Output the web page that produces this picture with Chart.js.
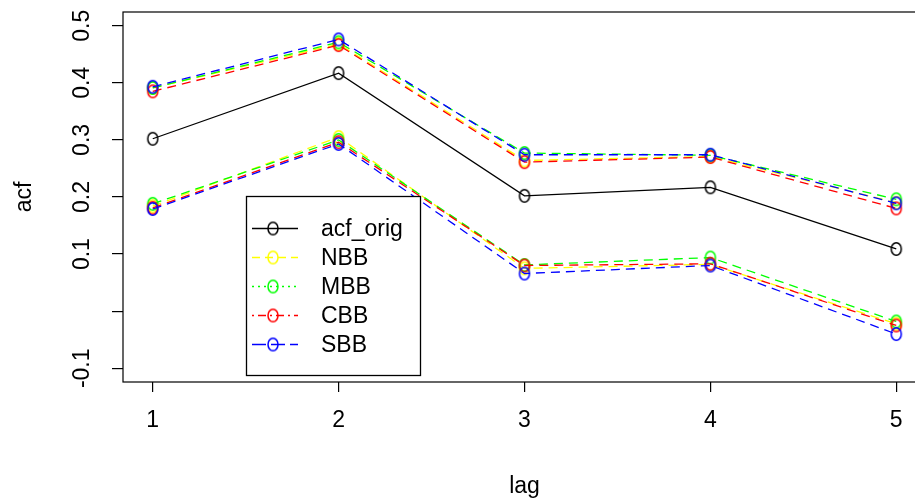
<!DOCTYPE html>
<html lang="en">
<head>
  <meta charset="UTF-8">
  <title>acf with bootstrap bands</title>
  <style>
    html, body {
      margin: 0;
      padding: 0;
      background: #fff;
      overflow: hidden;
      width: 915px;
      height: 504px;
    }
    #wrap {
      position: absolute;
      left: 0;
      top: 0;
      width: 960px;
      height: 504px;
    }
  </style>
</head>
<body>
  <div id="wrap">
    <canvas id="acfChart" width="960" height="504"></canvas>
  </div>

  <script src="https://cdn.jsdelivr.net/npm/chart.js"></script>
  <script>
    // lags and tick labels
    const lags = [1, 2, 3, 4, 5];
    const yTicks = [-0.1, 0, 0.1, 0.2, 0.3, 0.4, 0.5];
    const yTickLabels = ['-0.1', '', '0.1', '0.2', '0.3', '0.4', '0.5'];

    // sample acf of the original series
    const acfOrig = [0.302, 0.417, 0.202, 0.217, 0.109];

    // bootstrap bands (upper / lower) per block method
    const nbbUpper = [0.391, 0.468, 0.264, 0.271, 0.190];
    const nbbLower = [0.184, 0.305, 0.075, 0.082, -0.022];
    const mbbUpper = [0.391, 0.471, 0.277, 0.273, 0.196];
    const mbbLower = [0.188, 0.300, 0.081, 0.094, -0.018];
    const cbbUpper = [0.385, 0.466, 0.261, 0.270, 0.180];
    const cbbLower = [0.181, 0.296, 0.080, 0.083, -0.025];
    const sbbUpper = [0.393, 0.476, 0.274, 0.274, 0.189];
    const sbbLower = [0.179, 0.293, 0.066, 0.080, -0.040];

    const seriesNames = ['acf_orig', 'NBB', 'MBB', 'CBB', 'SBB'];
    const seriesColors = ['#000000', '#ffff00', '#00ff00', '#ff0000', '#0000ff'];
    const legendDash = [[], [8, 5], [2, 4], [2, 4, 8, 4], [14, 5]];

    const FONT = "'Liberation Sans', Arial, sans-serif";

    // open ellipse marker (like R's pch = 1 on this device)
    function marker(color) {
      const c = document.createElement('canvas');
      c.width = 14;
      c.height = 16;
      const g = c.getContext('2d');
      g.strokeStyle = color;
      g.lineWidth = 1.5;
      g.beginPath();
      g.ellipse(7, 8, 5, 6.3, 0, 0, Math.PI * 2);
      g.stroke();
      return c;
    }
    const markers = seriesColors.map(marker);

    function series(label, values, idx, order) {
      return {
        label: label,
        data: lags.map((x, i) => ({ x: x, y: values[i] })),
        borderColor: seriesColors[idx],
        borderWidth: 1.3,
        borderDash: idx === 0 ? [] : [9, 6],
        pointStyle: markers[idx],
        pointRadius: 6,
        pointHoverRadius: 6,
        tension: 0,
        fill: false,
        order: order
      };
    }

    // frame, rotated y labels and the in-plot legend
    const rDecor = {
      id: 'rDecor',
      afterDraw(chart) {
        const ctx = chart.ctx;
        const a = chart.chartArea;
        const ys = chart.scales.y;
        ctx.save();
        ctx.strokeStyle = '#000';
        ctx.lineWidth = 1.2;
        ctx.strokeRect(a.left, a.top, a.right - a.left, a.bottom - a.top);

        ctx.fillStyle = '#000';
        ctx.font = '23px ' + FONT;
        ctx.textAlign = 'center';
        ctx.textBaseline = 'middle';
        yTicks.forEach((v, i) => {
          if (!yTickLabels[i]) return;
          const py = ys.getPixelForValue(v);
          ctx.save();
          ctx.translate(83, py);
          ctx.rotate(-Math.PI / 2);
          ctx.fillText(yTickLabels[i], 0, 0);
          ctx.restore();
        });

        // legend
        const box = { x: 246.5, y: 196.5, w: 174, h: 179 };
        ctx.fillStyle = '#fff';
        ctx.fillRect(box.x, box.y, box.w, box.h);
        ctx.strokeStyle = '#000';
        ctx.lineWidth = 1.3;
        ctx.strokeRect(box.x, box.y, box.w, box.h);
        seriesNames.forEach((name, i) => {
          const y = 228.5 + i * 29;
          ctx.strokeStyle = seriesColors[i];
          ctx.lineWidth = 1.3;
          ctx.setLineDash(legendDash[i]);
          ctx.beginPath();
          ctx.moveTo(252, y);
          ctx.lineTo(298, y);
          ctx.stroke();
          ctx.setLineDash([]);
          ctx.drawImage(markers[i], 273 - 7, y - 8);
          ctx.fillStyle = '#000';
          ctx.textAlign = 'left';
          ctx.fillText(name, 321, y + 1);
        });
        ctx.restore();
      }
    };

    new Chart(document.getElementById('acfChart'), {
      type: 'line',
      data: {
        datasets: [
          series('acf_orig', acfOrig, 0, 5),
          series('NBB', nbbUpper, 1, 4),
          series('NBB', nbbLower, 1, 4),
          series('MBB', mbbUpper, 2, 3),
          series('MBB', mbbLower, 2, 3),
          series('CBB', cbbUpper, 3, 2),
          series('CBB', cbbLower, 3, 2),
          series('SBB', sbbUpper, 4, 1),
          series('SBB', sbbLower, 4, 1)
        ]
      },
      options: {
        responsive: false,
        animation: false,
        devicePixelRatio: 1,
        layout: { padding: { left: 0, right: 34, top: 12, bottom: 0 } },
        plugins: {
          legend: { display: false },
          tooltip: { enabled: false }
        },
        scales: {
          x: {
            type: 'linear',
            min: 0.84,
            max: 5.16,
            afterBuildTicks: s => { s.ticks = lags.map(v => ({ value: v })); },
            afterFit: s => { s.height = 122; },
            border: { display: false },
            grid: {
              drawOnChartArea: false,
              drawTicks: true,
              tickLength: 10,
              color: '#000',
              lineWidth: 1.2
            },
            ticks: {
              color: '#000',
              font: { family: FONT, size: 23 },
              padding: 15,
              maxRotation: 0,
              callback: v => String(v)
            },
            title: {
              display: true,
              text: 'lag',
              color: '#000',
              font: { family: FONT, size: 23, lineHeight: '34px' },
              padding: 0
            }
          },
          y: {
            type: 'linear',
            min: -0.124,
            max: 0.524,
            afterBuildTicks: s => { s.ticks = yTicks.map(v => ({ value: v })); },
            afterFit: s => { s.width = 123; },
            border: { display: false },
            grid: {
              drawOnChartArea: false,
              drawTicks: true,
              tickLength: 11,
              color: '#000',
              lineWidth: 1.2
            },
            ticks: { display: false },
            title: {
              display: true,
              text: 'acf',
              color: '#000',
              font: { family: FONT, size: 23, lineHeight: '50px' },
              padding: 0
            }
          }
        }
      },
      plugins: [rDecor]
    });
  </script>
</body>
</html>
